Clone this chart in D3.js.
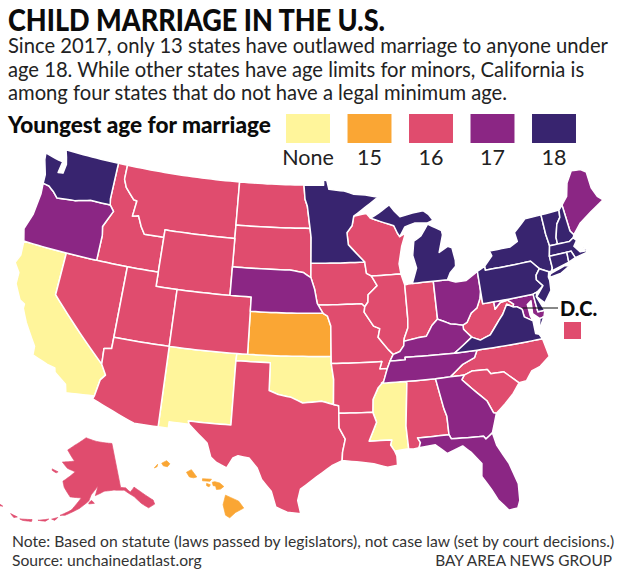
<!DOCTYPE html>
<html>
<head>
<meta charset="utf-8">
<script src="https://cdn.jsdelivr.net/npm/d3@7"></script>
<style>
  body { margin: 0; background: #fff; }
  text { font-family: Lato, "Open Sans", sans-serif; }
</style>
</head>
<body>
<div id="map"></div>
<script>
// Step 1: the chart's values
var ageLabels = ["None", "15", "16", "17", "18"];
var ageColors = ["#fff59b", "#faa634", "#e04c6e", "#8b2684", "#38246f"];

var noMinimum = ["CA", "NM", "OK", "MS"];
var age15 = ["KS", "HI"];
var age16 = ["ID", "MT", "ND", "SD", "WY", "NV", "UT", "CO", "AZ", "TX", "IA", "MO", "AR", "LA", "WI", "IL", "IN", "AL", "WV", "NC", "SC", "AK"];
var age17 = ["OR", "NE", "OH", "KY", "TN", "GA", "FL", "ME", "MD"];
var age18 = ["WA", "MN", "MI", "NY", "PA", "VA", "VT", "NH", "MA", "CT", "RI", "NJ", "DE"];

var titleText = "CHILD MARRIAGE IN THE U.S.";
var introLines = [
  "Since 2017, only 13 states have outlawed marriage to anyone under",
  "age 18. While other states have age limits for minors, California is",
  "among four states that do not have a legal minimum age."
];
var noteText = "Note: Based on statute (laws passed by legislators), not case law (set by court decisions.)";
var sourceText = "Source: unchainedatlast.org";
var creditText = "BAY AREA NEWS GROUP";

// State outlines, [lon, lat] rings estimated by hand
var outlines = {};
outlines.WA = [[[-124.7,48.38],[-123.2,48.15],[-122.75,48.12],[-122.9,47.3],[-122.4,47.35],[-122.3,48],[-122.5,48.5],[-122.76,49],[-117.03,49],[-117.04,46.42],[-116.92,45.99],[-118.98,46],[-119.3,45.93],[-120.5,45.7],[-121.2,45.65],[-122.3,45.55],[-122.8,45.9],[-123.4,46.2],[-124.05,46.27],[-124.1,46.9],[-124.6,47.9]]];
outlines.OR = [[[-124.05,46.27],[-123.4,46.2],[-122.8,45.9],[-122.3,45.55],[-121.2,45.65],[-120.5,45.7],[-119.3,45.93],[-118.98,46],[-116.92,45.99],[-116.46,45.6],[-116.9,44.9],[-117.2,44.4],[-117.03,43.8],[-117.03,42],[-120,42],[-124.21,42],[-124.55,42.84],[-124.1,44],[-123.95,45.5]]];
outlines.ID = [[[-117.03,49],[-116.05,49],[-116.05,48],[-115.7,47.45],[-114.7,46.7],[-114.35,46.65],[-114.5,45.55],[-113.9,45.65],[-113.45,44.95],[-113,44.45],[-111.05,44.48],[-111.05,42],[-114.04,42],[-117.03,42],[-117.03,43.8],[-117.2,44.4],[-116.9,44.9],[-116.46,45.6],[-116.92,45.99],[-117.04,46.42]]];
outlines.MT = [[[-116.05,49],[-104.05,49],[-104.05,45.94],[-104.05,45],[-111.05,45],[-111.05,44.48],[-113,44.45],[-113.45,44.95],[-113.9,45.65],[-114.5,45.55],[-114.35,46.65],[-114.7,46.7],[-115.7,47.45],[-116.05,48]]];
outlines.WY = [[[-111.05,45],[-104.05,45],[-104.05,43],[-104.05,41],[-109.05,41],[-111.05,41],[-111.05,42],[-111.05,44.48]]];
outlines.NV = [[[-120,42],[-114.04,42],[-114.04,37],[-114.04,36.2],[-114.7,36.1],[-114.63,35],[-120,39]]];
outlines.CA = [[[-124.21,42],[-120,42],[-120,39],[-114.63,35],[-114.13,34.3],[-114.5,33.9],[-114.72,32.72],[-117.12,32.53],[-117.3,33.1],[-118.4,33.75],[-118.5,34.03],[-119.2,34.15],[-120.6,34.55],[-120.65,35.15],[-121.9,36.6],[-122.5,37.5],[-122.5,37.8],[-123,38],[-123.75,39],[-123.8,39.8],[-124.4,40.4],[-124.1,41]]];
outlines.UT = [[[-114.04,42],[-111.05,42],[-111.05,41],[-109.05,41],[-109.05,37],[-114.04,37]]];
outlines.AZ = [[[-114.04,37],[-109.05,37],[-109.05,31.33],[-111.07,31.33],[-114.81,32.5],[-114.72,32.72],[-114.5,33.9],[-114.13,34.3],[-114.63,35],[-114.7,36.1],[-114.04,36.2]]];
outlines.CO = [[[-109.05,41],[-104.05,41],[-102.05,41],[-102.05,40],[-102.05,37],[-103,37],[-109.05,37]]];
outlines.NM = [[[-109.05,37],[-103,37],[-103.04,36.5],[-103.06,32],[-106.62,32],[-106.53,31.78],[-108.2,31.78],[-108.2,31.33],[-109.05,31.33]]];
outlines.ND = [[[-104.05,49],[-97.23,49],[-97.1,48],[-96.85,47.5],[-96.56,45.94],[-104.05,45.94]]];
outlines.SD = [[[-104.05,45.94],[-96.56,45.94],[-96.45,45.3],[-96.45,43.5],[-96.45,42.49],[-97.2,42.85],[-98.5,43],[-104.05,43]]];
outlines.NE = [[[-104.05,43],[-98.5,43],[-97.2,42.85],[-96.45,42.49],[-96.1,41.7],[-95.85,40.7],[-95.31,40],[-102.05,40],[-102.05,41],[-104.05,41]]];
outlines.KS = [[[-102.05,40],[-95.31,40],[-94.9,39.8],[-94.61,39.11],[-94.62,37],[-102.05,37]]];
outlines.OK = [[[-103,37],[-102.05,37],[-94.62,37],[-94.62,36.5],[-94.43,35.4],[-94.48,33.64],[-95.5,33.88],[-97.1,33.75],[-98.1,34.13],[-99.2,34.3],[-100,34.56],[-100,36.5],[-103.04,36.5]]];
outlines.TX = [[[-106.62,32],[-103.06,32],[-103.04,36.5],[-100,36.5],[-100,34.56],[-99.2,34.3],[-98.1,34.13],[-97.1,33.75],[-95.5,33.88],[-94.48,33.64],[-94.04,33.55],[-94.04,33.02],[-94.04,32],[-93.55,31.2],[-93.8,30.3],[-93.85,29.7],[-94.7,29.35],[-95.9,28.6],[-97.2,27.7],[-97.4,26.9],[-97.15,25.96],[-98.2,26.05],[-99.1,26.4],[-99.5,27.5],[-100.3,28.3],[-100.7,29.1],[-101.4,29.77],[-102.3,29.88],[-102.7,29.7],[-103.15,28.98],[-104,29.3],[-104.5,29.65],[-104.9,30.6],[-106.53,31.78]]];
outlines.MN = [[[-97.23,49],[-95.15,49],[-95.15,49.38],[-94.8,49.3],[-94.6,48.7],[-93,48.55],[-92,48.3],[-90.8,48.2],[-89.5,48],[-92.1,46.75],[-92.3,46.1],[-92.85,45.6],[-92.75,44.75],[-91.22,43.5],[-96.45,43.5],[-96.45,45.3],[-96.56,45.94],[-96.85,47.5],[-97.1,48]]];
outlines.IA = [[[-96.45,43.5],[-91.22,43.5],[-91.1,42.7],[-90.65,42.5],[-90.15,41.8],[-91.05,41.2],[-91.1,40.7],[-91.42,40.38],[-91.7,40.6],[-95.77,40.58],[-95.85,40.7],[-96.1,41.7],[-96.45,42.49]]];
outlines.MO = [[[-95.77,40.58],[-91.7,40.6],[-91.42,40.38],[-91.5,40],[-90.7,39],[-90.15,38.8],[-90.35,38.2],[-89.5,37.3],[-89.1,36.95],[-89.42,36.5],[-89.7,36],[-90.37,36],[-90.15,36.5],[-94.62,36.5],[-94.62,37],[-94.61,39.11],[-94.9,39.8],[-95.31,40]]];
outlines.AR = [[[-94.62,36.5],[-90.15,36.5],[-90.37,36],[-89.7,36],[-90.1,35.1],[-90.6,34.7],[-91.1,33.9],[-91.17,33],[-94.04,33.02],[-94.04,33.55],[-94.48,33.64],[-94.43,35.4]]];
outlines.LA = [[[-94.04,33.02],[-91.17,33],[-90.9,32.3],[-91.6,31],[-89.73,31],[-89.85,30.65],[-89.55,30.2],[-89.4,29.85],[-89.4,29.2],[-90.2,29.1],[-91.3,29.4],[-92.3,29.55],[-93.85,29.7],[-93.8,30.3],[-93.55,31.2],[-94.04,32]]];
outlines.WI = [[[-92.1,46.75],[-90.8,46.9],[-90.4,46.55],[-89,46.15],[-88.1,45.9],[-87.8,45.35],[-87.6,45.1],[-87,45.3],[-87.5,44.4],[-87.9,43.2],[-87.8,42.49],[-90.65,42.5],[-91.1,42.7],[-91.22,43.5],[-92.75,44.75],[-92.85,45.6],[-92.3,46.1]]];
outlines.IL = [[[-90.65,42.5],[-87.8,42.49],[-87.53,41.7],[-87.53,39.35],[-87.6,38.7],[-88,38],[-88.05,37.8],[-88.1,37.5],[-88.5,37.1],[-89.1,36.95],[-89.5,37.3],[-90.35,38.2],[-90.15,38.8],[-90.7,39],[-91.5,40],[-91.42,40.38],[-91.1,40.7],[-91.05,41.2],[-90.15,41.8]]];
outlines.IN = [[[-87.53,41.7],[-87.2,41.75],[-86.8,41.76],[-84.8,41.76],[-84.82,39.1],[-85.4,38.7],[-86,38],[-86.8,37.95],[-88.05,37.8],[-88,38],[-87.6,38.7],[-87.53,39.35]]];
outlines.OH = [[[-84.8,41.76],[-83.45,41.73],[-82.7,41.5],[-81.7,41.5],[-80.52,42],[-80.52,40.64],[-80.7,40.1],[-81.1,39.5],[-81.7,39.2],[-82.2,38.6],[-82.6,38.45],[-83.3,38.6],[-83.7,38.65],[-84.3,38.9],[-84.82,39.1]]];
outlines.MI = [
  [[-86.8,41.76],[-84.8,41.76],[-83.45,41.73],[-83.1,42.2],[-82.5,42.6],[-82.45,43],[-82.6,43.9],[-83,44.05],[-83.9,43.7],[-83.35,44.9],[-83.4,45.2],[-84.7,45.78],[-85.5,45],[-86.25,44.7],[-86.5,43.7],[-86.25,42.8]],
  [[-90.4,46.55],[-89,46.15],[-88.1,45.9],[-87.8,45.35],[-87.6,45.1],[-87,45.75],[-86,45.95],[-84.75,45.85],[-84.1,46],[-84.5,46.45],[-85,46.75],[-86.1,46.67],[-87.4,46.5],[-87.9,46.9],[-88.4,47.4],[-89.6,46.85]]
];
outlines.KY = [[[-89.42,36.5],[-88.07,36.5],[-88.07,36.68],[-83.68,36.6],[-81.97,37.54],[-82.6,38.17],[-82.6,38.45],[-83.3,38.6],[-83.7,38.65],[-84.3,38.9],[-84.82,39.1],[-85.4,38.7],[-86,38],[-86.8,37.95],[-88.05,37.8],[-88.1,37.5],[-88.5,37.1],[-89.1,36.95]]];
outlines.TN = [[[-90.1,35.1],[-89.7,36],[-89.42,36.5],[-88.07,36.5],[-88.07,36.68],[-83.68,36.6],[-81.68,36.59],[-82,36.1],[-83.1,35.75],[-84.32,35],[-85.6,34.98],[-88.2,35],[-90.3,35]]];
outlines.MS = [[[-90.3,35],[-88.2,35],[-88.1,34.9],[-88.47,31.9],[-88.4,30.3],[-89.55,30.2],[-89.85,30.65],[-89.73,31],[-91.6,31],[-90.9,32.3],[-91.17,33],[-91.1,33.9],[-90.6,34.7]]];
outlines.AL = [[[-88.2,35],[-85.6,34.98],[-85.18,32.87],[-85,32.3],[-85,31],[-87.6,31],[-87.4,30.65],[-87.55,30.3],[-88,30.25],[-88.4,30.3],[-88.47,31.9],[-88.1,34.9]]];
outlines.GA = [[[-85.6,34.98],[-84.32,35],[-83.1,35],[-83.35,34.7],[-82.6,34],[-81.5,33],[-81.1,32.1],[-80.87,32.03],[-81.45,30.72],[-82.05,30.36],[-82.2,30.57],[-84.86,30.7],[-85,31],[-85,32.3],[-85.18,32.87]]];
outlines.FL = [[[-87.6,31],[-85,31],[-84.86,30.7],[-82.2,30.57],[-82.05,30.36],[-81.45,30.72],[-81.25,29.8],[-80.5,28.4],[-80.05,26.9],[-80.15,25.7],[-80.4,25.2],[-81.1,25.15],[-81.8,26],[-82.2,26.8],[-82.8,27.8],[-82.65,28.7],[-83.4,29.6],[-84,30.1],[-85.3,29.7],[-86.2,30.4],[-87.55,30.3],[-87.4,30.65]]];
outlines.SC = [[[-83.1,35],[-82.4,35.2],[-81.05,35.15],[-80.8,34.82],[-79.67,34.8],[-78.55,33.86],[-79.2,33.2],[-80,32.6],[-80.87,32.03],[-81.1,32.1],[-81.5,33],[-82.6,34],[-83.35,34.7]]];
outlines.NC = [[[-84.32,35],[-83.1,35],[-82.4,35.2],[-81.05,35.15],[-80.8,34.82],[-79.67,34.8],[-78.55,33.86],[-77.9,33.9],[-77.3,34.5],[-76.5,34.7],[-75.55,35.25],[-75.8,36.55],[-81.68,36.59],[-82,36.1],[-83.1,35.75]]];
outlines.VA = [
  [[-83.68,36.6],[-81.68,36.59],[-75.8,36.55],[-76,36.9],[-76.3,37],[-76.3,37.9],[-77,38.3],[-77.05,38.85],[-77.5,39.1],[-77.83,39.13],[-78.35,39.4],[-78.87,38.76],[-79.3,38.4],[-80.3,37.5],[-81.25,37.25],[-81.97,37.54]],
  [[-75.25,38.03],[-75.95,37.15],[-75.65,37.95]]
];
outlines.WV = [[[-81.97,37.54],[-81.25,37.25],[-80.3,37.5],[-79.3,38.4],[-78.87,38.76],[-78.35,39.4],[-77.83,39.13],[-77.72,39.32],[-78.2,39.67],[-78.9,39.6],[-79.48,39.2],[-79.48,39.72],[-80.52,39.72],[-80.52,40.64],[-80.7,40.1],[-81.1,39.5],[-81.7,39.2],[-82.2,38.6],[-82.6,38.45],[-82.6,38.17]]];
outlines.PA = [[[-80.52,42],[-79.76,42.27],[-79.76,42],[-75.35,42],[-74.7,41.36],[-75.13,40.97],[-75.2,40.65],[-74.72,40.15],[-75.4,39.8],[-75.79,39.72],[-79.48,39.72],[-80.52,39.72],[-80.52,40.64]]];
outlines.NY = [
  [[-79.76,42.27],[-78.9,42.9],[-79.05,43.27],[-77,43.27],[-76.2,43.55],[-76.3,44.2],[-75,44.98],[-73.35,45],[-73.35,43.6],[-73.25,42.75],[-73.5,42.05],[-73.49,41.2],[-73.65,41],[-73.9,41],[-74.7,41.36],[-75.35,42],[-79.76,42]],
  [[-74,40.6],[-73.75,40.85],[-72.3,41.15],[-71.9,41.05],[-72.8,40.7]]
];
outlines.NJ = [[[-74.7,41.36],[-73.9,41],[-74.05,40.65],[-74,40.4],[-74.1,39.7],[-74.9,38.95],[-75.5,39.5],[-74.72,40.15],[-75.2,40.65],[-75.13,40.97]]];
outlines.DE = [[[-75.79,39.72],[-75.4,39.8],[-75.55,39.5],[-75.05,38.45],[-75.7,38.46]]];
outlines.MD = [[[-79.48,39.72],[-75.79,39.72],[-75.7,38.46],[-75.05,38.45],[-75.25,38.03],[-75.65,37.95],[-76.2,38.4],[-76.1,39.3],[-76.5,39.1],[-76.45,38.3],[-76.3,37.9],[-77,38.3],[-77.05,38.85],[-77.5,39.1],[-77.83,39.13],[-77.72,39.32],[-78.2,39.67],[-78.9,39.6],[-79.48,39.2]]];
outlines.CT = [[[-73.5,42.05],[-71.8,42.02],[-71.85,41.32],[-73.65,41],[-73.49,41.2]]];
outlines.RI = [[[-71.8,42.02],[-71.38,42.02],[-71.15,41.5],[-71.85,41.32]]];
outlines.MA = [[[-73.5,42.05],[-73.25,42.75],[-72.46,42.73],[-71.3,42.7],[-70.85,42.88],[-70.6,42.65],[-71,42.3],[-70.55,41.8],[-70.1,41.78],[-70.25,42.05],[-69.95,41.9],[-69.98,41.65],[-71.15,41.5],[-71.38,42.02],[-71.8,42.02]]];
outlines.VT = [[[-73.35,45],[-71.5,45.01],[-71.6,44.5],[-72.05,44.1],[-72.45,43.2],[-72.46,42.73],[-73.25,42.75],[-73.35,43.6]]];
outlines.NH = [[[-71.5,45.01],[-71.08,45.3],[-70.98,43.4],[-70.72,43.07],[-70.85,42.88],[-71.3,42.7],[-72.46,42.73],[-72.45,43.2],[-72.05,44.1],[-71.6,44.5]]];
outlines.ME = [[[-71.08,45.3],[-70.4,45.8],[-70,46.7],[-69.23,47.46],[-68.3,47.35],[-67.79,47.07],[-67.78,45.9],[-67.45,45.2],[-67,44.85],[-68.5,44.3],[-69.8,43.75],[-70.72,43.07],[-70.98,43.4]]];
outlines.AK = [
  [[-141,69.65],[-141,60.3],[-139,60],[-137.5,58.9],[-135.5,59.7],[-133.5,58.4],[-130,55.9],[-130,55],[-132.5,54.7],[-134.5,56],[-136.5,57.8],[-139.8,59.6],[-144,60],[-148,60],[-151.8,59.2],[-150.5,61.2],[-153.5,59.4],[-154.5,58.1],[-158,56.5],[-163,54.8],[-164.8,54.6],[-161,56],[-157.5,58.7],[-162,58.7],[-165,60.5],[-166,61.7],[-161,64],[-165,64.5],[-168,65.6],[-162,66.2],[-166.5,68.3],[-163,69.5],[-156.5,71.3],[-150,70.5]],
  [[-154.5,57.5],[-152.3,57.6],[-153.3,58.2],[-154.2,57.9]],
  [[-172,63.7],[-169,63.4],[-169.8,63.1],[-171.8,63.4]],
  [[-167.5,53.5],[-165.5,54.1],[-166.3,53.4]],
  [[-172,52.6],[-168.5,53.4],[-169.5,52.8]],
  [[-178,51.7],[-174,52.4],[-174,52],[-177,51.6]],
  [[-181.5,52],[-179,51.9],[-180,51.5]],
  [[-187,52.9],[-185,52.7],[-186,52.5]]
];
outlines.HI = [
  [[-155.9,20.25],[-155.6,20.12],[-155.1,19.9],[-154.8,19.5],[-155.3,19.25],[-155.65,18.95],[-155.9,19.1],[-156.05,19.7]],
  [[-156.7,21],[-156.55,21.03],[-156.25,20.95],[-156,20.75],[-156.2,20.6],[-156.45,20.58],[-156.5,20.78],[-156.65,20.8]],
  [[-157.3,21.2],[-156.75,21.17],[-156.85,21.05],[-157.3,21.08]],
  [[-157.05,20.93],[-156.82,20.85],[-156.9,20.73],[-157.05,20.8]],
  [[-158.28,21.57],[-157.98,21.72],[-157.65,21.3],[-157.85,21.25],[-158.1,21.3]],
  [[-159.8,22.08],[-159.5,22.23],[-159.3,22.05],[-159.45,21.88],[-159.7,21.93]],
  [[-160.25,21.8],[-160.05,22.02],[-160.08,21.88]]
];

var ageGroups = [noMinimum, age15, age16, age17, age18];

// Step 2: the page and its SVG
var svgWidth = 620;
var svgHeight = 577;

var svg = d3.select("#map").append("svg")
  .attr("width", svgWidth)
  .attr("height", svgHeight)
  .style("display", "block");

var color = d3.scaleOrdinal().domain(ageLabels).range(ageColors);

var legendX = d3.scaleBand()
  .domain(ageLabels)
  .range([277.25, 584.75])
  .paddingInner(0.285)
  .paddingOuter(0.1425);

// Step 3: projections for the lower 48, Alaska and Hawaii
var lower48 = d3.geoAlbers().scale(815).translate([309, 332]);

var alaska = d3.geoConicEqualArea()
  .rotate([154, 0]).center([-2, 58.5]).parallels([55, 65])
  .scale(275).translate([85, 499]);

var hawaii = d3.geoConicEqualArea()
  .rotate([157, 0]).center([-3, 19.9]).parallels([8, 18])
  .scale(1000).translate([158, 501]);

function projectionFor(abbr) {
  if (abbr === "AK") return alaska;
  if (abbr === "HI") return hawaii;
  return lower48;
}

// walk the ring in small lon/lat steps so parallels bend with the projection
function densify(ring) {
  var out = [];
  ring.forEach(function(p, i) {
    var q = ring[(i + 1) % ring.length];
    var n = Math.max(1, Math.ceil(Math.abs(q[0] - p[0]) / 0.5));
    for (var k = 0; k < n; k++) {
      out.push([p[0] + (q[0] - p[0]) * k / n, p[1] + (q[1] - p[1]) * k / n]);
    }
  });
  out.push(out[0]);
  // d3 wants clockwise rings
  if (d3.geoArea({type: "Polygon", coordinates: [out]}) > 2 * Math.PI) out.reverse();
  return out;
}

var states = [];
ageGroups.forEach(function(group, i) {
  group.forEach(function(abbr) {
    states.push({
      abbr: abbr,
      age: ageLabels[i],
      feature: {type: "MultiPolygon", coordinates: outlines[abbr].map(function(r) { return [densify(r)]; })}
    });
  });
});

// Step 4: draw the states
svg.append("g").selectAll("path")
  .data(states)
  .enter()
  .append("path")
  .attr("d", function(d) { return d3.geoPath(projectionFor(d.abbr))(d.feature); })
  .attr("fill", function(d) { return color(d.age); })
  // the detached states keep their small islands visible with a same-colour edge
  .attr("stroke", function(d) { return d.abbr === "AK" || d.abbr === "HI" ? color(d.age) : "#fff"; })
  .attr("stroke-width", function(d) { return d.abbr === "AK" || d.abbr === "HI" ? 0.7 : 1.5; })
  .attr("stroke-linejoin", "round");

// Step 5: headline and intro
svg.append("text")
  .attr("x", 8).attr("y", 31)
  .attr("font-family", "Roboto")
  .attr("font-size", 30).attr("font-weight", 900)
  .attr("textLength", 377).attr("lengthAdjust", "spacingAndGlyphs")
  .attr("fill", "#0b0b0b")
  .text(titleText);

svg.selectAll(".intro")
  .data(introLines)
  .enter()
  .append("text")
  .attr("class", "intro")
  .attr("x", 8)
  .attr("y", function(d, i) { return 53 + i * 23.5; })
  .attr("font-size", 20.2)
  .attr("fill", "#222")
  .text(function(d) { return d; });

// Step 6: legend
svg.append("text")
  .attr("x", 8).attr("y", 133)
  .attr("font-size", 22.6).attr("font-weight", 900)
  .attr("fill", "#0b0b0b")
  .text("Youngest age for marriage");

svg.selectAll(".swatch")
  .data(ageLabels)
  .enter()
  .append("rect")
  .attr("class", "swatch")
  .attr("x", function(d) { return legendX(d); })
  .attr("y", 114)
  .attr("width", legendX.bandwidth())
  .attr("height", 29)
  .attr("fill", function(d) { return color(d); });

svg.selectAll(".swatchLabel")
  .data(ageLabels)
  .enter()
  .append("text")
  .attr("class", "swatchLabel")
  .attr("x", function(d) { return legendX(d) + legendX.bandwidth() / 2; })
  .attr("y", 165)
  .attr("text-anchor", "middle")
  .attr("font-size", 21.5)
  .attr("fill", "#222")
  .text(function(d) { return d; });

// Step 7: D.C. callout
var dc = lower48([-77.03, 38.9]);
svg.append("line")
  .attr("x1", dc[0]).attr("y1", 308)
  .attr("x2", 558).attr("y2", 308)
  .attr("stroke", "#111").attr("stroke-width", 1);

svg.append("text")
  .attr("x", 560).attr("y", 316)
  .attr("font-size", 20).attr("font-weight", 900)
  .attr("fill", "#0b0b0b")
  .text("D.C.");

svg.append("rect")
  .attr("x", 564).attr("y", 322)
  .attr("width", 17).attr("height", 17)
  .attr("fill", color("16"));

// Step 8: footer
svg.append("text")
  .attr("x", 12).attr("y", 547)
  .attr("font-size", 15.7).attr("fill", "#333")
  .text(noteText);

svg.append("text")
  .attr("x", 12).attr("y", 566)
  .attr("font-size", 15.7).attr("fill", "#333")
  .text(sourceText);

svg.append("text")
  .attr("x", 612).attr("y", 566)
  .attr("text-anchor", "end")
  .attr("font-size", 15.4).attr("fill", "#333")
  .text(creditText);
</script>
</body>
</html>
